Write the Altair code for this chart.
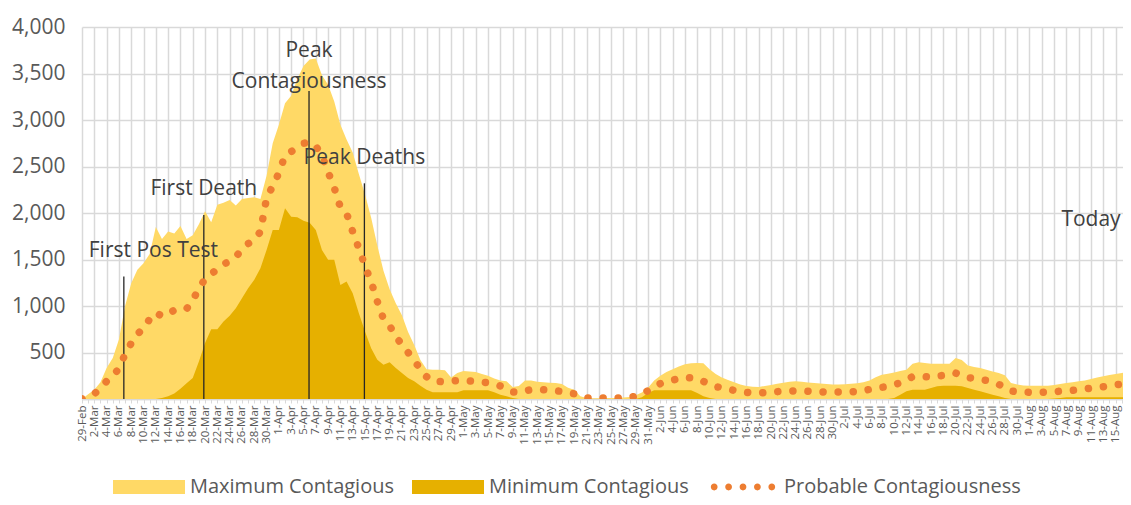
import json
import altair as alt
import pandas as pd

# ---------------- data (day 0 = 29-Feb-2020, one value per day) ----------------
MAX_CONT = [
    0, 50, 100, 180, 333, 440, 640, 1000, 1245, 1390,
    1460, 1560, 1850, 1720, 1800, 1780, 1860, 1720, 1760, 1880,
    2020, 1900, 2090, 2110, 2140, 2080, 2150, 2160, 2170, 2150,
    2400, 2750, 2950, 3180, 3260, 3440, 3580, 3650, 3660, 3480,
    3380, 3200, 2950, 2790, 2650, 2420, 2200, 1950, 1650, 1380,
    1180, 1030, 900, 720, 580, 420, 320, 315, 315, 310,
    230, 280, 300, 297, 290, 270, 250, 220, 200, 190,
    130, 140, 200, 200, 185, 180, 175, 172, 160, 120,
    100, 30, 10, 8, 8, 10, 10, 12, 15, 22,
    40, 70, 120, 200, 250, 290, 320, 350, 375, 385,
    388, 385, 320, 270, 230, 205, 180, 155, 140, 132,
    130, 140, 150, 165, 175, 185, 190, 185, 178, 172,
    168, 160, 155, 155, 158, 165, 170, 180, 200, 235,
    260, 272, 285, 300, 315, 380, 395, 388, 380, 380,
    380, 380, 440, 420, 360, 345, 333, 315, 295, 280,
    255, 172, 155, 145, 143, 143, 143, 143, 150, 160,
    172, 180, 190, 200, 215, 232, 245, 258, 270, 280,
    290,
]
MIN_CONT = [
    0, 0, 0, 0, 0, 0, 0, 0, 0, 0,
    0, 0, 0, 10, 30, 60, 110, 170, 225, 404,
    601, 751, 751, 834, 895, 977, 1084, 1191, 1281, 1406,
    1603, 1818, 1818, 2050, 1961, 1954, 1918, 1896, 1818, 1603,
    1496, 1496, 1227, 1263, 1138, 923, 726, 547, 422, 369,
    394, 333, 279, 225, 190, 143, 100, 72, 72, 72,
    72, 72, 93, 93, 93, 93, 93, 72, 47, 29,
    11, 0, 0, 0, 0, 0, 0, 0, 0, 0,
    0, 0, 0, 0, 0, 0, 0, 0, 0, 0,
    0, 20, 64, 93, 93, 93, 93, 93, 93, 93,
    64, 29, 11, 0, 0, 0, 0, 0, 0, 0,
    0, 0, 0, 0, 0, 0, 0, 0, 0, 0,
    0, 0, 0, 0, 0, 0, 0, 0, 0, 0,
    0, 0, 11, 47, 82, 100, 100, 100, 118, 136,
    143, 143, 143, 136, 118, 100, 82, 64, 47, 29,
    11, 0, 0, 0, 0, 0, 0, 0, 5, 10,
    20, 20, 20, 20, 20, 20, 20, 20, 20, 20,
    20,
]
PROB_CONT = [
    0, 25, 54, 120, 190, 245, 330, 480, 600, 700,
    755, 860, 930, 890, 915, 955, 962, 970, 1060, 1190,
    1290, 1342, 1400, 1450, 1480, 1530, 1605, 1670, 1712, 1800,
    2160, 2290, 2430, 2620, 2660, 2700, 2750, 2760, 2720, 2620,
    2440, 2272, 2060, 1997, 1800, 1620, 1430, 1260, 1050, 860,
    790, 666, 590, 500, 415, 320, 240, 190, 188, 186,
    192, 198, 198, 194, 190, 182, 174, 160, 140, 105,
    75, 72, 88, 100, 100, 100, 96, 90, 80, 66,
    57, 35, 12, 11, 11, 11, 11, 11, 12, 16,
    30, 52, 90, 135, 165, 185, 203, 218, 232, 228,
    218, 190, 155, 135, 118, 107, 93, 80, 70, 65,
    65, 70, 75, 79, 82, 86, 88, 89, 84, 79,
    77, 75, 75, 75, 75, 78, 80, 90, 103, 115,
    126, 136, 155, 172, 205, 240, 243, 240, 236, 245,
    254, 265, 279, 250, 230, 222, 210, 200, 178, 158,
    120, 85, 78, 74, 72, 72, 72, 74, 78, 84,
    90, 93, 100, 110, 116, 126, 132, 143, 154, 160,
    168,
]
DAYS = list(range(len(MAX_CONT)))
DATES = pd.date_range("2020-02-29", periods=len(DAYS), freq="D")
TICK_LABELS = [f"{d.day}-{d.strftime('%b')}" for d in DATES]

EVENT_DAY = [6.8, 19.8, 36.9, 45.9]
EVENT_TOP = [1316, 1979, 3313, 2319]
EVENT_BASE = [0, 0, 0, 0]

ANNOT_LABELS = ["First Pos Test", "First Death", "Peak\nContagiousness", "Peak Deaths", "Today"]
ANNOT_DAY = [11.6, 19.8, 36.9, 45.9, 164.0]
ANNOT_VALUE = [1592, 2258, 3739, 2590, 1925]

SERIES = ["Maximum Contagious", "Minimum Contagious", "Probable Contagiousness"]
COLORS = ["#FFD966", "#E6B000", "#ED7D31"]
Y_TICKS = [0, 500, 1000, 1500, 2000, 2500, 3000, 3500, 4000]
X_DOMAIN = [0, 169.2]

FONT = "Open Sans"
GRID = "#D9D9D9"

# ---------------- tables ----------------
df = pd.DataFrame({"day": DAYS, "max": MAX_CONT, "min": MIN_CONT, "prob": PROB_CONT})
events = pd.DataFrame({"day": EVENT_DAY, "base": EVENT_BASE, "top": EVENT_TOP})
annots = pd.DataFrame({"day": ANNOT_DAY, "value": ANNOT_VALUE, "label": ANNOT_LABELS})
legend_df = pd.DataFrame({"series": SERIES})

label_expr = f"datum.value % 2 === 0 ? {json.dumps(TICK_LABELS)}[datum.value] : ''"

x_axis = alt.Axis(
    title=None,
    values=[d for d in DAYS if d <= X_DOMAIN[1]],
    tickCount=1000,
    labelExpr=label_expr,
    labelAngle=-90,
    labelFontSize=11.5,
    labelFont=FONT,
    labelColor="#595959",
    labelOverlap=False,
    labelPadding=2,
    labelFlush=False,
    tickColor=GRID,
    tickSize=4,
    domainColor=GRID,
    domainWidth=1.5,
    grid=True,
    gridColor=GRID,
    gridWidth=1.5,
    gridOpacity={"condition": {"test": "datum.value % 2 === 0", "value": 1}, "value": 0},
)
y_axis = alt.Axis(
    title=None,
    values=Y_TICKS,
    labelExpr="datum.value === 0 ? '' : format(datum.value, ',')",
    labelFontSize=21,
    labelFont=FONT,
    labelColor="#595959",
    labelPadding=17,
    domain=False,
    ticks=False,
    grid=True,
    gridColor=GRID,
    gridWidth=1.5,
)

x_enc = alt.X("day:Q", scale=alt.Scale(domain=X_DOMAIN, nice=False, zero=False), axis=x_axis)
y_scale = alt.Scale(domain=[0, 4000], nice=False)

base = alt.Chart(df)

max_area = base.mark_area(color=COLORS[0], clip=True).encode(
    x=x_enc, y=alt.Y("max:Q", scale=y_scale, axis=y_axis)
)
min_area = base.mark_area(color=COLORS[1], clip=True).encode(
    x=alt.X("day:Q"), y=alt.Y("min:Q")
)
prob_line = base.mark_line(
    color=COLORS[2], strokeWidth=7.5, strokeDash=[0.1, 15], strokeCap="round", clip=True
).encode(x=alt.X("day:Q"), y=alt.Y("prob:Q"))

rules = alt.Chart(events).mark_rule(color="#262626", strokeWidth=1.3).encode(
    x=alt.X("day:Q"), y=alt.Y("base:Q"), y2="top:Q"
)
texts = alt.Chart(annots).mark_text(
    font=FONT, fontSize=21, color="#404040", lineBreak="\n", lineHeight=31
).encode(x=alt.X("day:Q"), y=alt.Y("value:Q"), text="label:N")

RECT_PATH = "M-1,-0.194H1V0.194H-1Z"
r = 0.094
DOTS_PATH = "".join(
    f"M{cx - r:.3f},0A{r},{r} 0 1,0 {cx + r:.3f},0A{r},{r} 0 1,0 {cx - r:.3f},0Z"
    for cx in [-0.8, -0.4, 0.0, 0.4, 0.8]
)

legend_layer = alt.Chart(legend_df).mark_point(filled=True, opacity=1, clip=True).encode(
    x=alt.value(-200),
    y=alt.value(-200),
    color=alt.Color(
        "series:N",
        scale=alt.Scale(domain=SERIES, range=COLORS),
        legend=alt.Legend(
            title=None,
            orient="none",
            legendX=31,
            legendY=424,
            direction="horizontal",
            labelFont=FONT,
            labelFontSize=20,
            labelColor="#595959",
            labelLimit=400,
            symbolSize=5184,
            symbolOpacity=1,
            symbolStrokeWidth=0,
            columnPadding=18,
            labelOffset=5,
            padding=0,
        ),
    ),
    shape=alt.Shape(
        "series:N",
        scale=alt.Scale(domain=SERIES, range=[RECT_PATH, RECT_PATH, DOTS_PATH]),
        legend=alt.Legend(title=None),
    ),
)

chart = alt.layer(max_area, min_area, rules, prob_line, texts, legend_layer).properties(
    width=1041,
    height=372,
    autosize=alt.AutoSizeParams(type="none"),
    padding={"left": 74, "top": 19, "right": 0, "bottom": 104},
    background="white",
).configure_view(stroke=None)

chart.save("out.html", embed_options={"renderer": "svg", "actions": False})
